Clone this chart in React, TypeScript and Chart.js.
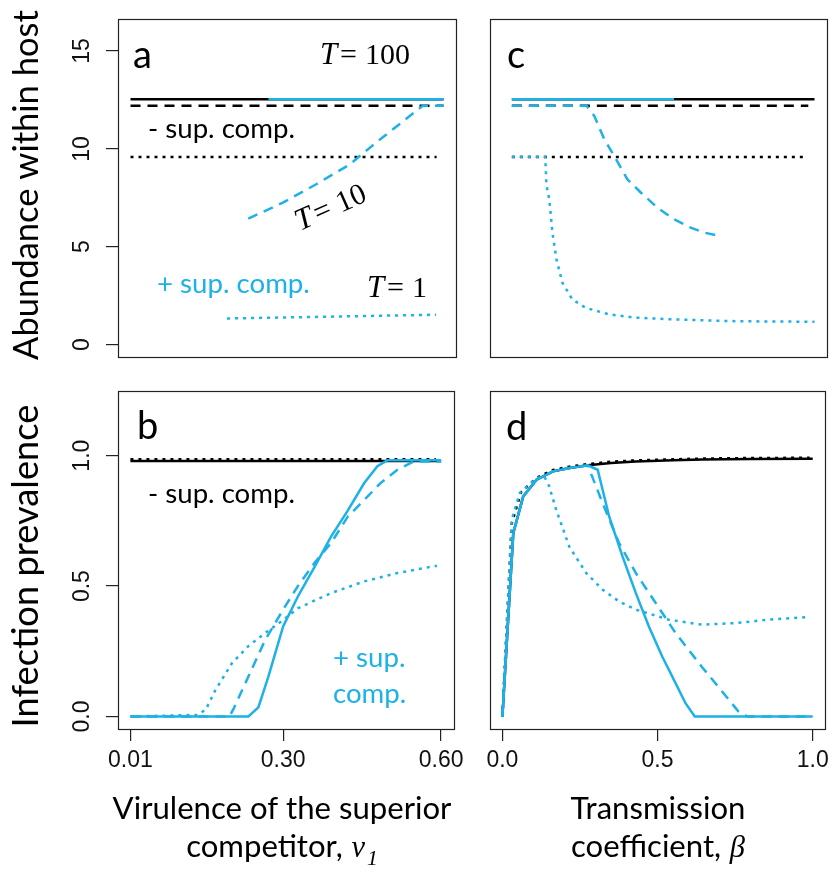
import React, { useEffect, useRef } from "react";
import { Chart, registerables } from "chart.js";

Chart.register(...registerables);

const BLUE = "#1DB1E7";
const BLACK = "#000000";
const SANS = "Lato, 'Open Sans', sans-serif";
const SERIF = "'Liberation Serif', 'DejaVu Serif', serif";
const TICKFONT = "'Liberation Sans', Arial, sans-serif";

// ---- tick values / labels ----
const virulenceTicks = [0.01, 0.3, 0.6];
const virulenceTickLabels = ["0.01", "0.30", "0.60"];
const betaTicks = [0, 0.5, 1];
const betaTickLabels = ["0.0", "0.5", "1.0"];
const abundanceTicks = [0, 5, 10, 15];
const abundanceTickLabels = ["0", "5", "10", "15"];
const prevalenceTicks = [0, 0.5, 1];
const prevalenceTickLabels = ["0.0", "0.5", "1.0"];

// ---- panel a: abundance vs virulence ----
const aT100NoSupX = [0.01, 0.6];
const aT100NoSupY = [12.54, 12.54];
const aT100SupX = [0.27, 0.6];
const aT100SupY = [12.54, 12.54];
const aT10NoSupX = [0.01, 0.6];
const aT10NoSupY = [12.2, 12.2];
const aT10SupX = [0.232, 0.297, 0.36, 0.423, 0.454, 0.485, 0.517, 0.549, 0.561, 0.6];
const aT10SupY = [6.43, 7.25, 8.19, 9.2, 9.9, 10.58, 11.26, 11.95, 12.2, 12.2];
const aT1NoSupX = [0.01, 0.587];
const aT1NoSupY = [9.59, 9.59];
const aT1SupX = [0.192, 0.3, 0.4, 0.5, 0.586];
const aT1SupY = [1.33, 1.38, 1.43, 1.48, 1.52];

// ---- panel c: abundance vs transmission ----
const cT100NoSupX = [0.03, 1.0];
const cT100NoSupY = [12.54, 12.54];
const cT100SupX = [0.03, 0.55];
const cT100SupY = [12.54, 12.54];
const cT10NoSupX = [0.03, 0.98];
const cT10NoSupY = [12.2, 12.2];
const cT10SupX = [0.03, 0.27, 0.294, 0.326, 0.358, 0.4, 0.443, 0.496, 0.55, 0.603, 0.646, 0.694];
const cT10SupY = [12.2, 12.2, 11.69, 10.5, 9.64, 8.45, 7.77, 7.0, 6.4, 5.97, 5.72, 5.55];
const cT1NoSupX = [0.03, 0.975];
const cT1NoSupY = [9.59, 9.59];
const cT1SupX = [0.03, 0.137, 0.141, 0.15, 0.16, 0.173, 0.192, 0.224, 0.266, 0.341, 0.426, 0.554, 0.746, 1.0];
const cT1SupY = [9.6, 9.6, 8.13, 7.42, 5.72, 4.35, 3.16, 2.3, 1.88, 1.54, 1.37, 1.28, 1.19, 1.16];

// ---- panel b: prevalence vs virulence ----
const bT100NoSupX = [0.01, 0.6];
const bT100NoSupY = [0.98, 0.98];
const bT1NoSupX = [0.01, 0.59];
const bT1NoSupY = [0.986, 0.986];
const bT100SupX = [0.01, 0.234, 0.253, 0.272, 0.3, 0.328, 0.36, 0.391, 0.423, 0.454, 0.479, 0.498, 0.6];
const bT100SupY = [0, 0, 0.035, 0.153, 0.345, 0.46, 0.575, 0.69, 0.79, 0.895, 0.96, 0.982, 0.982];
const bT10SupX = [0.01, 0.198, 0.206, 0.234, 0.266, 0.3, 0.328, 0.36, 0.391, 0.423, 0.454, 0.485, 0.517, 0.548, 0.6];
const bT10SupY = [0, 0, 0.03, 0.153, 0.294, 0.41, 0.5, 0.59, 0.665, 0.767, 0.83, 0.895, 0.946, 0.978, 0.978];
const bT1SupX = [0.01, 0.137, 0.153, 0.171, 0.203, 0.234, 0.266, 0.3, 0.328, 0.391, 0.454, 0.517, 0.592];
const bT1SupY = [0, 0.006, 0.026, 0.1, 0.205, 0.27, 0.32, 0.37, 0.415, 0.473, 0.518, 0.55, 0.578];

// ---- panel d: prevalence vs transmission ----
const dT100NoSupX = [0, 0.035, 0.067, 0.11, 0.163, 0.216, 0.275, 0.35, 0.43, 0.55, 0.643, 0.8, 1.0];
const dT100NoSupY = [0, 0.703, 0.844, 0.908, 0.94, 0.953, 0.963, 0.972, 0.978, 0.982, 0.985, 0.987, 0.988];
const dT1NoSupX = [0, 0.03, 0.06, 0.11, 0.163, 0.216, 0.275, 0.35, 0.43, 0.55, 0.643, 0.8, 0.99];
const dT1NoSupY = [0, 0.74, 0.86, 0.915, 0.945, 0.958, 0.968, 0.977, 0.982, 0.986, 0.989, 0.991, 0.992];
const dT100SupX = [0, 0.035, 0.067, 0.11, 0.163, 0.216, 0.275, 0.307, 0.344, 0.387, 0.43, 0.472, 0.515, 0.558, 0.59, 0.62, 1.0];
const dT100SupY = [0, 0.703, 0.844, 0.908, 0.94, 0.953, 0.963, 0.946, 0.767, 0.614, 0.473, 0.345, 0.23, 0.128, 0.051, 0, 0];
const dT10SupX = [0, 0.035, 0.067, 0.11, 0.163, 0.216, 0.275, 0.323, 0.376, 0.43, 0.494, 0.558, 0.643, 0.739, 0.76, 0.79, 1.0];
const dT10SupY = [0, 0.703, 0.844, 0.908, 0.94, 0.953, 0.963, 0.818, 0.665, 0.55, 0.435, 0.32, 0.19, 0.051, 0.02, 0, 0];
const dT1SupX = [0, 0.03, 0.056, 0.11, 0.135, 0.15, 0.174, 0.216, 0.27, 0.323, 0.376, 0.43, 0.536, 0.643, 0.75, 0.856, 0.98];
const dT1SupY = [0, 0.755, 0.857, 0.915, 0.92, 0.885, 0.79, 0.65, 0.55, 0.486, 0.441, 0.41, 0.371, 0.352, 0.358, 0.371, 0.381];

type LineStyle = "solid" | "dashed" | "dotted";
type Series = { x: number[]; y: number[]; color: string; style: LineStyle };

const DASHES: Record<LineStyle, number[]> = { solid: [], dashed: [10, 7], dotted: [3, 5] };

interface Panel {
  key: string;
  left: number;
  top: number;
  width: number;
  height: number;
  pad: { left: number; top: number; right: number; bottom: number };
  showY: boolean;
  showX: boolean;
  yAxisWidth: number;
  xAxisHeight: number;
  xMin: number;
  xMax: number;
  xTicks: number[];
  xLabels: string[];
  yMin: number;
  yMax: number;
  yTicks: number[];
  yLabels: string[];
  series: Series[];
  decorate: (ctx: CanvasRenderingContext2D, chart: any, p: Panel) => void;
}

function fitSize(ctx: CanvasRenderingContext2D, text: string, family: string, style: string, target: number) {
  ctx.font = `${style} 100px ${family}`;
  const w = ctx.measureText(text).width || 1;
  return (100 * target) / w;
}

function text(
  ctx: CanvasRenderingContext2D,
  s: string,
  x: number,
  y: number,
  font: string,
  color: string,
  align: CanvasTextAlign = "left"
) {
  ctx.font = font;
  ctx.fillStyle = color;
  ctx.textAlign = align;
  ctx.textBaseline = "alphabetic";
  ctx.fillText(s, x, y);
}

function drawTeq(ctx: CanvasRenderingContext2D, x: number, y: number, num: string, angle: number) {
  ctx.save();
  ctx.translate(x, y);
  ctx.rotate(angle);
  text(ctx, "T", 0, 0, `italic 31px ${SERIF}`, BLACK);
  text(ctx, "=", 20, 0, `30px ${SERIF}`, BLACK);
  text(ctx, num, 45, 0, `30px ${SERIF}`, BLACK);
  ctx.restore();
}

function drawYTitle(ctx: CanvasRenderingContext2D, s: string, bx: number, cy: number, width: number) {
  const size = fitSize(ctx, s, SANS, "", width);
  ctx.save();
  ctx.translate(bx, cy);
  ctx.rotate(-Math.PI / 2);
  text(ctx, s, 0, 0, `${size}px ${SANS}`, BLACK, "center");
  ctx.restore();
}

function drawYTickLabels(ctx: CanvasRenderingContext2D, chart: any, p: Panel) {
  const sc = chart.scales.y;
  p.yTicks.forEach((v, i) => {
    const py = sc.getPixelForValue(v) + p.top;
    ctx.save();
    ctx.translate(82, py);
    ctx.rotate(-Math.PI / 2);
    ctx.font = `23px ${TICKFONT}`;
    ctx.fillStyle = "#111";
    ctx.textAlign = "center";
    ctx.textBaseline = "middle";
    ctx.fillText(p.yLabels[i], 0, 1);
    ctx.restore();
  });
}

function titleSize(ctx: CanvasRenderingContext2D) {
  return fitSize(ctx, "Virulence of the superior", SANS, "", 339);
}

function drawMathLine(
  ctx: CanvasRenderingContext2D,
  cx: number,
  baseline: number,
  prefix: string,
  sym: string,
  sub: string,
  size: number
) {
  const gap = size * 0.28;
  ctx.font = `${size}px ${SANS}`;
  const w1 = ctx.measureText(prefix).width;
  const symFont = `italic ${size * 0.98}px ${SERIF}`;
  ctx.font = symFont;
  const w2 = ctx.measureText(sym).width;
  const subFont = `italic ${size * 0.7}px ${SERIF}`;
  let w3 = 0;
  if (sub) {
    ctx.font = subFont;
    w3 = ctx.measureText(sub).width + 2;
  }
  let x = cx - (w1 + gap + w2 + w3) / 2;
  text(ctx, prefix, x, baseline, `${size}px ${SANS}`, BLACK);
  x += w1 + gap;
  text(ctx, sym, x, baseline, symFont, BLACK);
  x += w2;
  if (sub) text(ctx, sub, x + 2, baseline + size * 0.25, subFont, BLACK);
}

const panels: Panel[] = [
  {
    key: "a",
    left: 0,
    top: 0,
    width: 470,
    height: 374,
    pad: { left: 0, top: 19, right: 14, bottom: 17 },
    showY: true,
    showX: false,
    yAxisWidth: 118,
    xAxisHeight: 0,
    xMin: -0.0136,
    xMax: 0.6236,
    xTicks: virulenceTicks,
    xLabels: virulenceTickLabels,
    yMin: -0.64,
    yMax: 16.64,
    yTicks: abundanceTicks,
    yLabels: abundanceTickLabels,
    series: [
      { x: aT100SupX, y: aT100SupY, color: BLUE, style: "solid" },
      { x: aT10SupX, y: aT10SupY, color: BLUE, style: "dashed" },
      { x: aT1SupX, y: aT1SupY, color: BLUE, style: "dotted" },
      { x: aT100NoSupX, y: aT100NoSupY, color: BLACK, style: "solid" },
      { x: aT10NoSupX, y: aT10NoSupY, color: BLACK, style: "dashed" },
      { x: aT1NoSupX, y: aT1NoSupY, color: BLACK, style: "dotted" },
    ],
    decorate: (ctx, chart, p) => {
      drawYTitle(ctx, "Abundance within host", 38, 185, 350);
      drawYTickLabels(ctx, chart, p);
      text(ctx, "a", 133, 68, `38px ${SANS}`, BLACK);
      drawTeq(ctx, 320, 64, "100", 0);
      drawTeq(ctx, 300, 231, "10", (-24 * Math.PI) / 180);
      drawTeq(ctx, 367, 297, "1", 0);
      const s1 = fitSize(ctx, "- sup. comp.", SANS, "", 147);
      text(ctx, "- sup. comp.", 148, 138, `${s1}px ${SANS}`, BLACK);
      const s2 = fitSize(ctx, "+ sup. comp.", SANS, "", 153);
      text(ctx, "+ sup. comp.", 157, 293, `${s2}px ${SANS}`, BLUE);
    },
  },
  {
    key: "c",
    left: 470,
    top: 0,
    width: 365,
    height: 374,
    pad: { left: 20, top: 19, right: 8, bottom: 17 },
    showY: false,
    showX: false,
    yAxisWidth: 0,
    xAxisHeight: 0,
    xMin: -0.04,
    xMax: 1.04,
    xTicks: betaTicks,
    xLabels: betaTickLabels,
    yMin: -0.64,
    yMax: 16.64,
    yTicks: abundanceTicks,
    yLabels: abundanceTickLabels,
    series: [
      { x: cT100SupX, y: cT100SupY, color: BLUE, style: "solid" },
      { x: cT10SupX, y: cT10SupY, color: BLUE, style: "dashed" },
      { x: cT1SupX, y: cT1SupY, color: BLUE, style: "dotted" },
      { x: cT100NoSupX, y: cT100NoSupY, color: BLACK, style: "solid" },
      { x: cT10NoSupX, y: cT10NoSupY, color: BLACK, style: "dashed" },
      { x: cT1NoSupX, y: cT1NoSupY, color: BLACK, style: "dotted" },
    ],
    decorate: (ctx) => {
      text(ctx, "c", 507, 68, `38px ${SANS}`, BLACK);
    },
  },
  {
    key: "b",
    left: 0,
    top: 374,
    width: 470,
    height: 499,
    pad: { left: 0, top: 17, right: 14, bottom: 0 },
    showY: true,
    showX: true,
    yAxisWidth: 118,
    xAxisHeight: 144,
    xMin: -0.0136,
    xMax: 0.6236,
    xTicks: virulenceTicks,
    xLabels: virulenceTickLabels,
    yMin: -0.048,
    yMax: 1.248,
    yTicks: prevalenceTicks,
    yLabels: prevalenceTickLabels,
    series: [
      { x: bT100SupX, y: bT100SupY, color: BLUE, style: "solid" },
      { x: bT10SupX, y: bT10SupY, color: BLUE, style: "dashed" },
      { x: bT1SupX, y: bT1SupY, color: BLUE, style: "dotted" },
      { x: bT100NoSupX, y: bT100NoSupY, color: BLACK, style: "solid" },
      { x: bT1NoSupX, y: bT1NoSupY, color: BLACK, style: "dotted" },
    ],
    decorate: (ctx, chart, p) => {
      drawYTitle(ctx, "Infection prevalence", 38, 566, 323);
      drawYTickLabels(ctx, chart, p);
      text(ctx, "b", 137, 439, `38px ${SANS}`, BLACK);
      const s1 = fitSize(ctx, "- sup. comp.", SANS, "", 147);
      text(ctx, "- sup. comp.", 148, 503, `${s1}px ${SANS}`, BLACK);
      const s2 = fitSize(ctx, "+ sup. comp.", SANS, "", 153);
      text(ctx, "+ sup.", 333, 667, `${s2}px ${SANS}`, BLUE);
      text(ctx, "comp.", 333, 703, `${s2}px ${SANS}`, BLUE);
      const ts = titleSize(ctx);
      text(ctx, "Virulence of the superior", 282, 819, `${ts}px ${SANS}`, BLACK, "center");
      drawMathLine(ctx, 282, 857, "competitor,", "v", "1", ts);
    },
  },
  {
    key: "d",
    left: 470,
    top: 374,
    width: 365,
    height: 499,
    pad: { left: 20, top: 17, right: 8, bottom: 0 },
    showY: false,
    showX: true,
    yAxisWidth: 0,
    xAxisHeight: 144,
    xMin: -0.04,
    xMax: 1.04,
    xTicks: betaTicks,
    xLabels: betaTickLabels,
    yMin: -0.048,
    yMax: 1.248,
    yTicks: prevalenceTicks,
    yLabels: prevalenceTickLabels,
    series: [
      { x: dT100SupX, y: dT100SupY, color: BLUE, style: "solid" },
      { x: dT10SupX, y: dT10SupY, color: BLUE, style: "dashed" },
      { x: dT1SupX, y: dT1SupY, color: BLUE, style: "dotted" },
      { x: dT100NoSupX, y: dT100NoSupY, color: BLACK, style: "solid" },
      { x: dT1NoSupX, y: dT1NoSupY, color: BLACK, style: "dotted" },
    ],
    decorate: (ctx) => {
      text(ctx, "d", 506, 440, `38px ${SANS}`, BLACK);
      const ts = titleSize(ctx);
      text(ctx, "Transmission", 658, 819, `${ts}px ${SANS}`, BLACK, "center");
      drawMathLine(ctx, 658, 857, "coefficient,", "\u03B2", "", ts);
    },
  },
];

function PanelChart({ p }: { p: Panel }) {
  const ref = useRef<HTMLCanvasElement | null>(null);
  useEffect(() => {
    if (!ref.current) return;
    const deco = {
      id: "deco_" + p.key,
      afterDraw(chart: any) {
        const ctx: CanvasRenderingContext2D = chart.ctx;
        const a = chart.chartArea;
        ctx.save();
        ctx.strokeStyle = "#222";
        ctx.lineWidth = 1.2;
        ctx.strokeRect(
          Math.round(a.left) + 0.5,
          Math.round(a.top) + 0.5,
          Math.round(a.right - a.left),
          Math.round(a.bottom - a.top)
        );
        ctx.translate(-p.left, -p.top);
        p.decorate(ctx, chart, p);
        ctx.restore();
      },
    };
    const chart = new Chart(ref.current, {
      type: "line",
      data: {
        datasets: p.series.map((s) => ({
          data: s.x.map((xv, i) => ({ x: xv, y: s.y[i] })),
          borderColor: s.color,
          borderWidth: 2.5,
          borderDash: DASHES[s.style],
          borderCapStyle: "butt",
          pointRadius: 0,
          fill: false,
          tension: 0,
        })),
      },
      options: {
        responsive: false,
        animation: false,
        devicePixelRatio: 1,
        events: [],
        layout: { padding: p.pad },
        plugins: { legend: { display: false }, tooltip: { enabled: false } },
        scales: {
          x: {
            type: "linear",
            display: p.showX,
            min: p.xMin,
            max: p.xMax,
            afterBuildTicks: (sc: any) => {
              sc.ticks = p.xTicks.map((v) => ({ value: v }));
            },
            afterFit: (sc: any) => {
              if (p.showX) sc.height = p.xAxisHeight;
            },
            grid: { drawOnChartArea: false, drawTicks: true, tickLength: 12, color: "#222", lineWidth: 1.2 },
            border: { display: false },
            ticks: {
              autoSkip: false,
              maxRotation: 0,
              minRotation: 0,
              padding: 6,
              color: "#111",
              font: { family: TICKFONT, size: 23 },
              callback: (_v: any, i: number) => p.xLabels[i],
            },
          },
          y: {
            type: "linear",
            display: p.showY,
            min: p.yMin,
            max: p.yMax,
            afterBuildTicks: (sc: any) => {
              sc.ticks = p.yTicks.map((v) => ({ value: v }));
            },
            afterFit: (sc: any) => {
              if (p.showY) sc.width = p.yAxisWidth;
            },
            grid: { drawOnChartArea: false, drawTicks: true, tickLength: 12, color: "#222", lineWidth: 1.2 },
            border: { display: false },
            ticks: { display: false },
          },
        },
      },
      plugins: [deco],
    } as any);
    return () => chart.destroy();
  }, [p]);
  return (
    <canvas
      ref={ref}
      width={p.width}
      height={p.height}
      style={{ position: "absolute", left: p.left, top: p.top, width: p.width, height: p.height }}
    />
  );
}

export default function App() {
  return (
    <div style={{ position: "absolute", left: 0, top: 0, width: 835, height: 873, background: "#fff" }}>
      {panels.map((p) => (
        <PanelChart key={p.key} p={p} />
      ))}
    </div>
  );
}
